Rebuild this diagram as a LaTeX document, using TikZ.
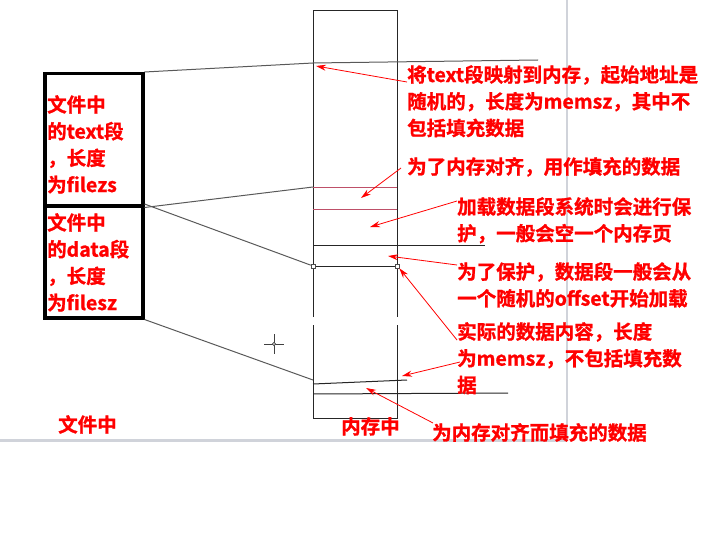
\documentclass[tikz,border=0pt]{standalone}
\usepackage{fontspec}
\setmainfont{Noto Sans CJK SC}
\newfontfamily\cjkbold{Noto Sans CJK SC Bold}[FakeBold=1.2]
\usetikzlibrary{arrows.meta}
\definecolor{txtred}{RGB}{255,0,0}
\definecolor{padred}{RGB}{190,80,105}
\definecolor{frame}{RGB}{208,211,218}
\tikzset{
  lbl/.style={text=txtred, font=\fontsize{19.5}{26.7}\selectfont\cjkbold, align=left, anchor=north west, inner sep=0pt},
  segbox/.style={draw, line width=3.5pt, minimum width=98pt, anchor=north west, inner sep=0pt},
  link/.style={draw=black!65, line width=1pt},
  memln/.style={draw=black!85, line width=1pt},
  redarr/.style={draw=red, line width=0.8pt, -{Stealth[length=10pt,width=6pt]}},
  sq/.style={draw=black!70, fill=white, line width=0.6pt, minimum size=4pt, inner sep=0pt}
}

\begin{document}
\begin{tikzpicture}[x=1pt, y=-1pt]
  \useasboundingbox (0,0) rectangle (708,548);
  % screenshot frame
  \draw[frame, line width=2pt] (567,0) -- (567,440);
  \draw[frame, line width=3pt] (0,440) -- (567,440);

  % file segments
  \node[segbox, minimum height=132pt] (textseg) at (43,72) {};
  \node[segbox, minimum height=112pt] (dataseg) at (43,204) {};
  \node[lbl] (textinfo) at (47,95) {文件中\\的text段\\，长度\\为filezs};
  \node[lbl] (datainfo) at (47,213) {文件中\\的data段\\，长度\\为filesz};

  % memory column
  \draw[memln] (313,317) -- (313,11) -- (397,11) -- (397,317);
  \draw[memln] (313,325) -- (313,418) -- (397,418) -- (397,325);
  \coordinate (txtTop) at (313,63);
  \coordinate (txtEnd) at (313,187);
  \coordinate (datTop) at (313,266);
  \coordinate (datEnd) at (313,380);
  \draw[link] (txtTop) -- (538,60);
  \draw[padred, line width=0.8pt] (txtEnd) -- (397,187) (313,209) -- (397,209);
  \draw[memln] (313,245) -- (485,245);
  \draw[memln] (datTop) -- (397,266);
  \node[sq] (sqL) at (datTop) {};
  \node[sq] (sqR) at (397,266) {};
  \draw[memln] (313,384) -- (407,380);
  \draw[memln] (313,394) -- (508,393);

  % file -> memory
  \draw[link] (textseg.north east) -- (txtTop);
  \draw[link] (textseg.south east) -- (txtEnd);
  \draw[link] (dataseg.north east) -- (sqL);
  \draw[link] (dataseg.south east) -- (datEnd);

  % cursor
  \draw[black!75, line width=0.8pt] (264,344) -- (284,344) (274,334) -- (274,354);
  \draw[black!75, fill=white, line width=0.6pt] (274,344) circle (1.6);

  % notes
  \node[lbl] (t1) at (407,65) {将text段映射到内存，起始地址是\\随机的，长度为memsz，其中不\\包括填充数据};
  \node[lbl] (t2) at (407,157) {为了内存对齐，用作填充的数据};
  \node[lbl] (t3) at (457,197) {加载数据段系统时会进行保\\护，一般会空一个内存页};
  \node[lbl] (t4) at (457,262) {为了保护，数据段一般会从\\一个随机的offset开始加载};
  \node[lbl] (t5) at (457,322) {实际的数据内容，长度\\为memsz，不包括填充数\\据};
  \node[lbl] (t6) at (432,423) {为内存对齐而填充的数据};
  \node[lbl] (filelbl) at (58,415) {文件中};
  \node[lbl] (memlbl) at (341,417) {内存中};

  \coordinate (tipA) at (316,66);
  \coordinate (tipB) at (361,198);
  \coordinate (tipC) at (370,227);
  \coordinate (tipD) at (388,256);
  \coordinate (tipF) at (402,376);
  \coordinate (tipG) at (366,388);
  \draw[redarr] ([yshift=-17pt]t1.north west) -- (tipA);
  \draw[redarr] ([xshift=-6pt, yshift=-11pt]t2.north west) -- (tipB);
  \draw[redarr] ([yshift=-4pt]t3.north west) -- (tipC);
  \draw[redarr] ([yshift=-3pt]t4.north west) -- (tipD);
  \draw[redarr] ([yshift=-18pt]t5.north west) -- (sqR.south east);
  \draw[redarr] ([xshift=3pt, yshift=-40pt]t5.north west) -- (tipF);
  \draw[redarr] ([xshift=1pt]t6.north west) -- (tipG);
\end{tikzpicture}
\end{document}
